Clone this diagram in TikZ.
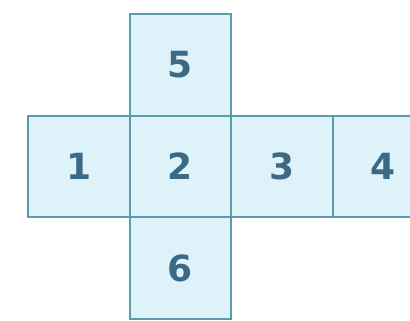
\documentclass[tikz,border=0pt]{standalone}
\usepackage{fontspec}
\newfontfamily\digitfont{DejaVu Sans}
\definecolor{facefill}{HTML}{DDF2F9}
\definecolor{faceline}{HTML}{5A9BAE}
\definecolor{digitcol}{HTML}{3C6A86}
\begin{document}
\begin{tikzpicture}[x=1pt,y=-1pt,
  face/.style={draw=faceline,line width=1.6pt,fill=facefill,minimum width=101.5pt,minimum height=101.5pt,inner sep=0pt,
    font=\digitfont\bfseries\fontsize{36}{36}\selectfont,text=digitcol}]
\useasboundingbox (0,0) rectangle (410,321);
\clip (0,0) rectangle (410,321);
\fill[white] (0,0) rectangle (410,321);
\node[face] (f1) at (79,166.5) {1};
\node[face] (f2) at (180.5,166.5) {2};
\node[face] (f3) at (282,166.5) {3};
\node[face] (f4) at (383.5,166.5) {4};
\node[face] (f5) at (180.5,65) {5};
\node[face] (f6) at (180.5,268) {6};
\end{tikzpicture}
\end{document}
